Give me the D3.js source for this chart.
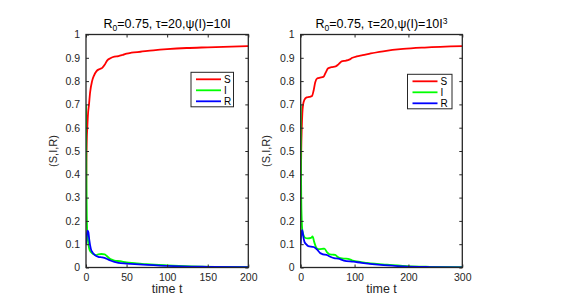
<!DOCTYPE html>
<html><head><meta charset="utf-8">
<script src="https://cdn.jsdelivr.net/npm/d3@7"></script>
<style>
html,body{margin:0;padding:0;background:#fff;}
svg{display:block;font-family:"Liberation Sans",Arial,Helvetica,sans-serif;}
</style></head>
<body>
<svg id="chart" width="572" height="301"></svg>
<script>
// ---------- data ----------
const yTicks = [0,0.1,0.2,0.3,0.4,0.5,0.6,0.7,0.8,0.9,1];
const yTickLabels = ["0","0.1","0.2","0.3","0.4","0.5","0.6","0.7","0.8","0.9","1"];
const xTicksLeft = [0,50,100,150,200];
const xTicksRight = [0,100,200,300];
const seriesNames = ["S","I","R"];
const seriesColors = ["#ff0000","#00ff00","#0000ff"];

// left panel: psi(I)=10I
const tS1 = [0,0.5,1,1.6,2.5,3.7,5,7.5,10,13,17,20,23,26,30,35,40,45,50,56,67,83,100,124,150,200];
const S1  = [0.2,0.45,0.55,0.6,0.66,0.7,0.75,0.8,0.825,0.843,0.852,0.857,0.87,0.888,0.898,0.905,0.907,0.912,0.918,0.922,0.926,0.932,0.937,0.942,0.945,0.95];
const tI1 = [0,0.3,0.6,1,1.5,2,3,4,6,9,12,15,19,23,26,30,35,42,50,60,75,100,130,160,200];
const I1  = [0.7,0.5,0.35,0.22,0.16,0.13,0.1,0.08,0.066,0.058,0.053,0.056,0.058,0.056,0.048,0.036,0.03,0.027,0.022,0.019,0.014,0.009,0.005,0.003,0.002];
const tR1 = [0,1,2,3,4,6,8,11,15,20,25,30,35,40,50,70,100,150,200];
const R1  = [0.1,0.14,0.158,0.15,0.12,0.08,0.065,0.053,0.046,0.043,0.038,0.03,0.024,0.02,0.017,0.012,0.007,0.003,0.001];

// right panel: psi(I)=10I^3
const tS2 = [0,0.5,1,2,3,4.5,7,11,16,21,24,27,31,36,42,46,51,57,65,70,76,84,90,96,104,115,130,153,190,230,300];
const S2  = [0.2,0.4,0.5,0.6,0.66,0.7,0.72,0.73,0.732,0.736,0.76,0.795,0.812,0.815,0.818,0.835,0.855,0.86,0.863,0.872,0.885,0.888,0.892,0.9,0.906,0.911,0.919,0.928,0.938,0.944,0.95];
const tI2 = [0,0.5,1,2,3,5,8,13,19,22,25,29,33,40,44,49,54,60,64,69,74,82,88,95,104,123,160,197,240,300];
const I2  = [0.7,0.45,0.3,0.2,0.16,0.14,0.128,0.125,0.127,0.133,0.11,0.085,0.079,0.08,0.081,0.065,0.056,0.055,0.054,0.045,0.04,0.038,0.037,0.031,0.026,0.02,0.012,0.006,0.003,0.001];
const tR2 = [0,1,3,5,7,10,14,24,30,36,42,48,55,62,70,80,98,113,154,191,240,300];
const R2  = [0.1,0.14,0.16,0.13,0.11,0.1,0.092,0.088,0.078,0.062,0.056,0.054,0.046,0.04,0.038,0.03,0.025,0.02,0.01,0.005,0.002,0.0005];

const panels = [
  {x0:86, x1:248.3, xmax:200, xticks:xTicksLeft, title:["R","0","=0.75, τ=20,ψ(I)=10I",""],
   series:[[tS1,S1],[tI1,I1],[tR1,R1]], legend:{x:191,y:72.3,w:42.5,h:34.5}, ylabX:57},
  {x0:300.7, x1:462.3, xmax:300, xticks:xTicksRight, title:["R","0","=0.75, τ=20,ψ(I)=10I","3"],
   series:[[tS2,S2],[tI2,I2],[tR2,R2]], legend:{x:407.5,y:74.3,w:44.5,h:34.5}, ylabX:270}
];
const yTop = 34.5, yBot = 267.5;
const axisColor = "#262626";
const svg = d3.select("#chart");

panels.forEach(p => {
  const x = d3.scaleLinear().domain([0,p.xmax]).range([p.x0,p.x1]);
  const y = d3.scaleLinear().domain([0,1]).range([yBot,yTop]);
  const g = svg.append("g");

  // curves (clipped)
  const clipId = "clip" + p.xmax;
  svg.append("clipPath").attr("id",clipId).append("rect")
    .attr("x",p.x0).attr("y",yTop).attr("width",p.x1-p.x0).attr("height",yBot-yTop);
  const cg = g.append("g").attr("clip-path",`url(#${clipId})`);
  const line = d3.line().x(d=>x(d[0])).y(d=>y(d[1])).curve(d3.curveMonotoneX);
  p.series.forEach((s,i) => {
    const pts = s[0].map((t,k)=>[t,s[1][k]]);
    cg.append("path").datum(pts).attr("d",line).attr("fill","none")
      .attr("stroke",seriesColors[i]).attr("stroke-width",1.8).attr("stroke-linejoin","round");
  });

  // axes
  const tickLen = 3;
  const xb = g.append("g").attr("transform",`translate(0,${yBot})`)
    .call(d3.axisBottom(x).tickValues(p.xticks).tickSize(-tickLen).tickPadding(6).tickFormat(d3.format("d")));
  const xt = g.append("g").attr("transform",`translate(0,${yTop})`)
    .call(d3.axisTop(x).tickValues(p.xticks).tickSize(-tickLen).tickFormat(""));
  const yl = g.append("g").attr("transform",`translate(${p.x0},0)`)
    .call(d3.axisLeft(y).tickValues(yTicks).tickSize(-tickLen).tickPadding(6).tickFormat((d,i)=>yTickLabels[i]));
  const yr = g.append("g").attr("transform",`translate(${p.x1},0)`)
    .call(d3.axisRight(y).tickValues(yTicks).tickSize(-tickLen).tickFormat(""));
  [xb,xt,yl,yr].forEach(a=>{
    a.select(".domain").remove();
    a.selectAll(".tick line").attr("stroke",axisColor).attr("stroke-width",1);
    a.selectAll("text").attr("fill",axisColor).attr("font-size","10.5px")
      .attr("font-family","'Liberation Sans',Arial,sans-serif");
  });
  g.append("rect").attr("x",p.x0).attr("y",yTop).attr("width",p.x1-p.x0).attr("height",yBot-yTop)
    .attr("fill","none").attr("stroke",axisColor).attr("stroke-width",1.3);

  // title
  const cx = (p.x0+p.x1)/2;
  const tt = g.append("text").attr("x",cx).attr("y",28).attr("text-anchor","middle")
    .attr("font-size","12.5px").attr("fill","#000");
  tt.append("tspan").text(p.title[0]);
  tt.append("tspan").text(p.title[1]).attr("font-size","8.5px").attr("dy",3);
  tt.append("tspan").text(p.title[2]).attr("dy",-3);
  if (p.title[3]) tt.append("tspan").text(p.title[3]).attr("font-size","8.5px").attr("dy",-4.5);

  // axis labels
  g.append("text").attr("x",cx).attr("y",293).attr("text-anchor","middle")
    .attr("font-size","12.5px").attr("fill",axisColor).text("time t");
  g.append("text").attr("transform",`translate(${p.ylabX},151) rotate(-90)`)
    .attr("text-anchor","middle").attr("font-size","11px").attr("fill",axisColor).text("(S,I,R)");

  // legend
  const L = p.legend;
  const lg = g.append("g");
  lg.append("rect").attr("x",L.x).attr("y",L.y).attr("width",L.w).attr("height",L.h)
    .attr("fill","#fff").attr("stroke",axisColor).attr("stroke-width",1);
  seriesNames.forEach((n,i)=>{
    const yy = L.y + 7 + i*11;
    lg.append("line").attr("x1",L.x+5).attr("x2",L.x+30).attr("y1",yy).attr("y2",yy)
      .attr("stroke",seriesColors[i]).attr("stroke-width",1.8);
    lg.append("text").attr("x",L.x+33).attr("y",yy+3.5).attr("font-size","10px")
      .attr("fill","#000").text(n);
  });
});
</script>
</body></html>
